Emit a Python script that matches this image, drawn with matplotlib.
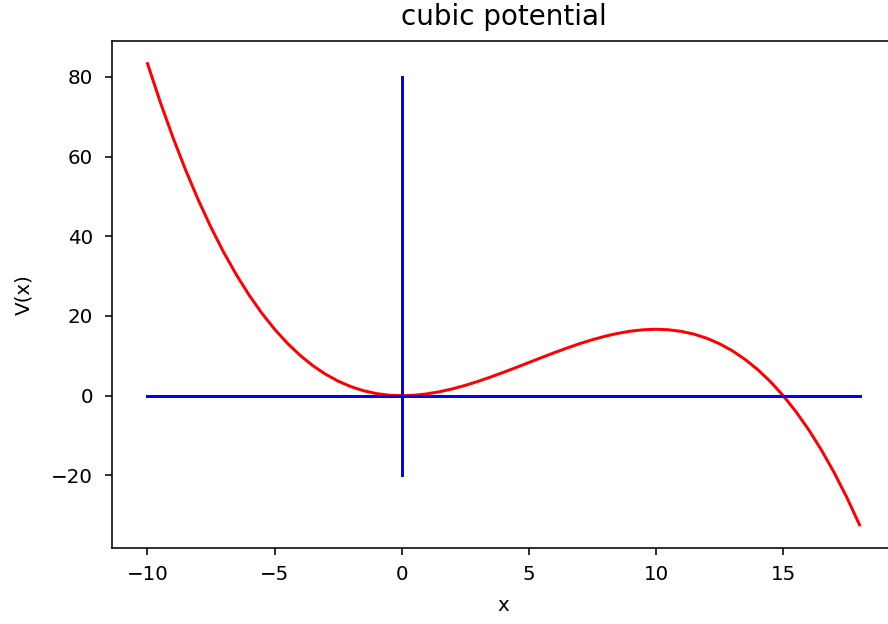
import matplotlib
matplotlib.use("Agg")
import matplotlib.pyplot as plt

# sample points of V(x)
x_vals = [-10, -9.5, -9, -8.5, -8, -7.5, -7, -6.5, -6, -5.5, -5, -4.5, -4, -3.5,
          -3, -2.5, -2, -1.5, -1, -0.5, 0, 0.5, 1, 1.5, 2, 2.5, 3, 3.5, 4, 4.5,
          5, 5.5, 6, 6.5, 7, 7.5, 8, 8.5, 9, 9.5, 10, 10.5, 11, 11.5, 12, 12.5,
          13, 13.5, 14, 14.5, 15, 15.5, 16, 16.5, 17, 17.5, 18]
v_vals = [83.33, 73.70, 64.80, 56.60, 49.07, 42.19, 35.93, 30.28, 25.20, 20.67,
          16.67, 13.16, 10.13, 7.55, 5.40, 3.65, 2.27, 1.24, 0.53, 0.13, 0.0,
          0.12, 0.47, 1.01, 1.73, 2.60, 3.60, 4.70, 5.87, 7.09, 8.33, 9.58,
          10.80, 11.97, 13.07, 14.06, 14.93, 15.65, 16.20, 16.55, 16.67, 16.54,
          16.13, 15.43, 14.40, 13.02, 11.27, 9.11, 6.53, 3.50, 0.0, -4.00,
          -8.53, -13.61, -19.27, -25.52, -32.40]

# axis guide lines
hline_x = [-10, 18]
hline_y = [0, 0]
vline_x = [0, 0]
vline_y = [-20, 80]

dpi = 143
fig = plt.figure(figsize=(888 / dpi, 624 / dpi), dpi=dpi)
# right edge of the axes runs just past the picture (cropped in the original)
ax = fig.add_axes([0.126, 0.122, 0.882, 0.813])

ax.plot(x_vals, v_vals, color="red")
ax.plot(hline_x, hline_y, color="blue")
ax.plot(vline_x, vline_y, color="blue")

ax.set_title("cubic potential", fontsize=14, pad=8)
ax.set_xlabel("x", labelpad=6)
ax.set_ylabel("V(x)", labelpad=9)
ax.tick_params(axis="x", pad=5)
ax.tick_params(axis="y", pad=6)

fig.savefig("out.png", dpi=dpi)
